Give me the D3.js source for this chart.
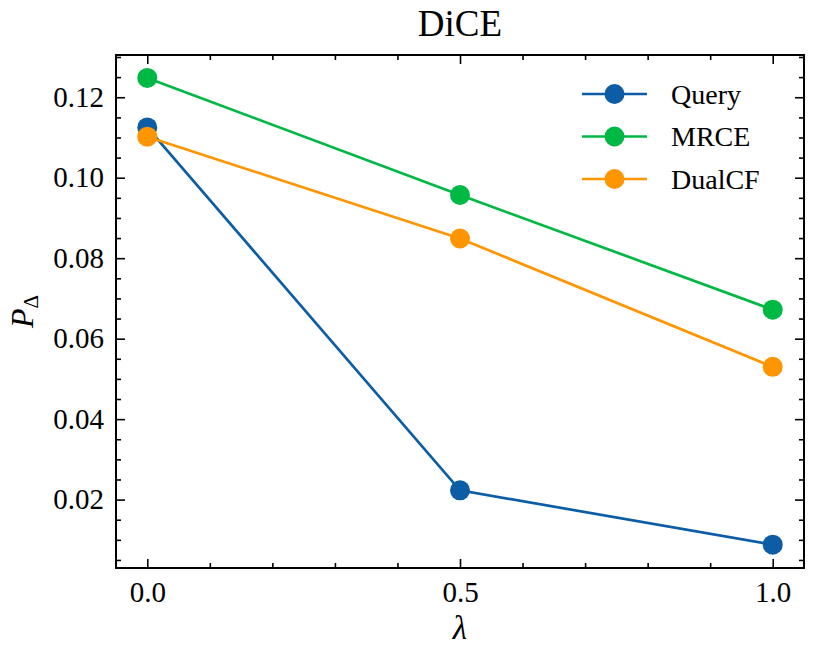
<!DOCTYPE html>
<html lang="en">
<head>
    <meta charset="UTF-8">
    <title>DiCE</title>
    <script src="https://cdn.jsdelivr.net/npm/d3@7"></script>
    <style>
        body { margin: 0; background: #fff; }
        svg text { font-family: "Liberation Serif", "Times New Roman", serif; fill: #000; }
    </style>
</head>
<body>
<div id="viz"></div>
<script>
// data
var lambdas = [0.0, 0.5, 1.0];
var seriesNames = ["Query", "MRCE", "DualCF"];
var seriesColors = ["#0C5DA5", "#00B945", "#FF9500"];
var queryVals = [0.1125, 0.0223, 0.0088];
var mrceVals = [0.1248, 0.0957, 0.0672];
var dualcfVals = [0.1102, 0.0849, 0.0530];
var xMajor = [0.0, 0.5, 1.0];
var yMajor = [0.02, 0.04, 0.06, 0.08, 0.10, 0.12];

function draw() {
    var w = 815, h = 657;
    var pLeft = 116, pRight = 804, pTop = 55, pBottom = 568;

    var series = seriesNames.map(function(n, i) {
        return {name: n, color: seriesColors[i], vals: [queryVals, mrceVals, dualcfVals][i]};
    });

    var svg = d3.select("#viz").append("svg")
        .attr("width", w)
        .attr("height", h);

    var x = d3.scaleLinear().domain([-0.05, 1.05]).range([pLeft, pRight]);
    var y = d3.scaleLinear().domain([0.003, 0.1305]).range([pBottom, pTop]);

    var xMinor = d3.range(0, 11).map(function(i){ return i / 10; })
        .filter(function(v){ return xMajor.indexOf(v) < 0; });
    var yMinor = d3.range(1, 27).map(function(i){ return +(i * 0.005).toFixed(3); })
        .filter(function(v){ return Math.round(v * 1000) % 20 != 0 && v > 0.003 && v < 0.1305; });

    function axisStyle(g) {
        g.attr("font-family", null);
        g.select(".domain").remove();
        g.selectAll("line").attr("stroke", "#000").attr("stroke-width", 1.6);
        g.selectAll("text").style("font-size", "29px").attr("fill", "#000");
    }

    // bottom
    svg.append("g").attr("transform", "translate(0," + pBottom + ")")
        .call(d3.axisBottom(x).tickValues(xMajor).tickSizeInner(-9).tickSizeOuter(0).tickPadding(13).tickFormat(d3.format(".1f")))
        .call(axisStyle)
        .selectAll("text").attr("dy", "0.71em");
    svg.append("g").attr("transform", "translate(0," + pBottom + ")")
        .call(d3.axisBottom(x).tickValues(xMinor).tickSizeInner(-5).tickSizeOuter(0).tickFormat(""))
        .call(axisStyle);
    // top
    svg.append("g").attr("transform", "translate(0," + pTop + ")")
        .call(d3.axisTop(x).tickValues(xMajor).tickSizeInner(-9).tickSizeOuter(0).tickFormat(""))
        .call(axisStyle);
    svg.append("g").attr("transform", "translate(0," + pTop + ")")
        .call(d3.axisTop(x).tickValues(xMinor).tickSizeInner(-5).tickSizeOuter(0).tickFormat(""))
        .call(axisStyle);
    // left
    svg.append("g").attr("transform", "translate(" + pLeft + ",0)")
        .call(d3.axisLeft(y).tickValues(yMajor).tickSizeInner(-9).tickSizeOuter(0).tickPadding(12).tickFormat(d3.format(".2f")))
        .call(axisStyle);
    svg.append("g").attr("transform", "translate(" + pLeft + ",0)")
        .call(d3.axisLeft(y).tickValues(yMinor).tickSizeInner(-5).tickSizeOuter(0).tickFormat(""))
        .call(axisStyle);
    // right
    svg.append("g").attr("transform", "translate(" + pRight + ",0)")
        .call(d3.axisRight(y).tickValues(yMajor).tickSizeInner(-9).tickSizeOuter(0).tickFormat(""))
        .call(axisStyle);
    svg.append("g").attr("transform", "translate(" + pRight + ",0)")
        .call(d3.axisRight(y).tickValues(yMinor).tickSizeInner(-5).tickSizeOuter(0).tickFormat(""))
        .call(axisStyle);

    // frame
    svg.append("rect")
        .attr("x", pLeft).attr("y", pTop)
        .attr("width", pRight - pLeft).attr("height", pBottom - pTop)
        .attr("fill", "none").attr("stroke", "#000").attr("stroke-width", 2);

    var line = d3.line()
        .x(function(d, i){ return x(lambdas[i]); })
        .y(function(d){ return y(d); });

    var sg = svg.append("g").selectAll("g").data(series).enter().append("g");
    sg.append("path")
        .attr("d", function(d){ return line(d.vals); })
        .attr("fill", "none")
        .attr("stroke", function(d){ return d.color; })
        .attr("stroke-width", 2.7);
    sg.selectAll("circle")
        .data(function(d){ return d.vals.map(function(v, i){ return {v: v, i: i, c: d.color}; }); })
        .enter().append("circle")
        .attr("cx", function(d){ return x(lambdas[d.i]); })
        .attr("cy", function(d){ return y(d.v); })
        .attr("r", 10)
        .attr("fill", function(d){ return d.c; });

    // legend
    var lg = svg.append("g").selectAll("g").data(series).enter().append("g")
        .attr("transform", function(d, i){ return "translate(582," + (94 + i * 42.5) + ")"; });
    lg.append("line").attr("x1", 0).attr("x2", 65).attr("y1", 0).attr("y2", 0)
        .attr("stroke", function(d){ return d.color; }).attr("stroke-width", 2.7);
    lg.append("circle").attr("cx", 32.5).attr("cy", 0).attr("r", 10)
        .attr("fill", function(d){ return d.color; });
    lg.append("text").attr("x", 671).attr("x", 89).attr("y", 0).attr("dy", "0.35em")
        .style("font-size", "28px").text(function(d){ return d.name; });

    // title and labels
    svg.append("text").attr("x", (pLeft + pRight) / 2).attr("y", 36)
        .attr("text-anchor", "middle").style("font-size", "37px").text("DiCE");
    svg.append("text").attr("x", (pLeft + pRight) / 2).attr("y", 639)
        .attr("text-anchor", "middle").style("font-size", "33px").style("font-style", "italic").text("λ");
    var yl = svg.append("text")
        .attr("transform", "translate(33," + ((pTop + pBottom) / 2) + ") rotate(-90)")
        .attr("text-anchor", "middle").style("font-size", "32px");
    yl.append("tspan").style("font-style", "italic").text("P");
    yl.append("tspan").attr("dy", 5).style("font-size", "21px").text("Δ");
}
draw();
</script>
</body>
</html>
